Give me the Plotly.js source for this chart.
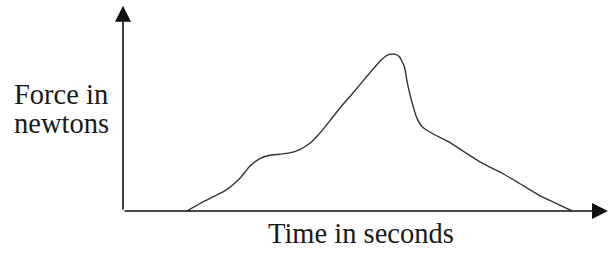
<!DOCTYPE html>
<html>
<head>
<meta charset="utf-8">
<script src="https://cdn.plot.ly/plotly-3.0.1.min.js"></script>
<style>html,body{margin:0;padding:0;background:#fff;}#chart{width:608px;height:254px;}</style>
</head>
<body>
<div id="chart"></div>
<script>
// Time (arbitrary units) and force (arbitrary units)
const timeValues = [6.4, 7.7, 9.0, 10.4, 11.7, 12.7, 13.7, 14.7, 15.7, 16.7, 17.7, 18.7, 19.7, 20.7, 21.7, 23.0, 24.4, 25.7, 26.5, 27.2, 27.7, 28.2, 28.5, 28.9, 29.4, 30.0, 31.0, 32.0, 32.7, 34.4, 36.0, 38.0, 39.7, 41.7, 43.4, 45.0];
const forceValues = [0, 0.74, 1.4, 2.14, 3.24, 4.47, 5.24, 5.57, 5.67, 5.8, 6.14, 6.74, 7.74, 8.97, 10.24, 11.74, 13.4, 14.9, 15.57, 15.67, 15.4, 14.4, 12.74, 11.07, 9.4, 8.4, 7.74, 7.24, 6.87, 5.77, 4.77, 3.77, 2.77, 1.57, 0.77, 0];
const yAxisLabelLines = ["Force in", "newtons"];
const xAxisLabel = "Time in seconds";
const timeMax = 48.6;
const forceMax = 20.5;

const trace = {
  x: timeValues, y: forceValues, type: 'scatter', mode: 'lines',
  line: {color: '#333', width: 1.4, shape: 'spline', smoothing: 0.5},
  hoverinfo: 'skip'
};

const font = {family: 'Liberation Serif, Times New Roman, serif', size: 28.5, color: '#1a1a1a'};

const layout = {
  width: 608, height: 254,
  margin: {l: 123, r: 0, t: 0, b: 43.3},
  paper_bgcolor: '#fff', plot_bgcolor: '#fff',
  showlegend: false,
  xaxis: {range: [0, timeMax], visible: false, fixedrange: true},
  yaxis: {range: [0, 21.07], visible: false, fixedrange: true},
  annotations: [
    {xref: 'x', yref: 'y', x: 0, y: forceMax, axref: 'x', ayref: 'y', ax: 0, ay: 0,
     text: '', showarrow: true, arrowhead: 2, arrowsize: 2, arrowwidth: 1.6, arrowcolor: '#111'},
    {xref: 'x', yref: 'y', x: timeMax, y: 0, axref: 'x', ayref: 'y', ax: 0, ay: 0,
     text: '', showarrow: true, arrowhead: 2, arrowsize: 2, arrowwidth: 1.6, arrowcolor: '#111'},
    {xref: 'paper', yref: 'paper', x: -0.1278, y: 0.551, xanchor: 'center', yanchor: 'middle',
     text: yAxisLabelLines[0], showarrow: false, font: font},
    {xref: 'paper', yref: 'paper', x: -0.1278, y: 0.416, xanchor: 'center', yanchor: 'middle',
     text: yAxisLabelLines[1], showarrow: false, font: font},
    {xref: 'paper', yref: 'paper', x: 0.4897, y: -0.105, xanchor: 'center', yanchor: 'middle',
     text: xAxisLabel, showarrow: false, font: font}
  ]
};

Plotly.newPlot('chart', [trace], layout, {staticPlot: true, displayModeBar: false});
</script>
</body>
</html>
